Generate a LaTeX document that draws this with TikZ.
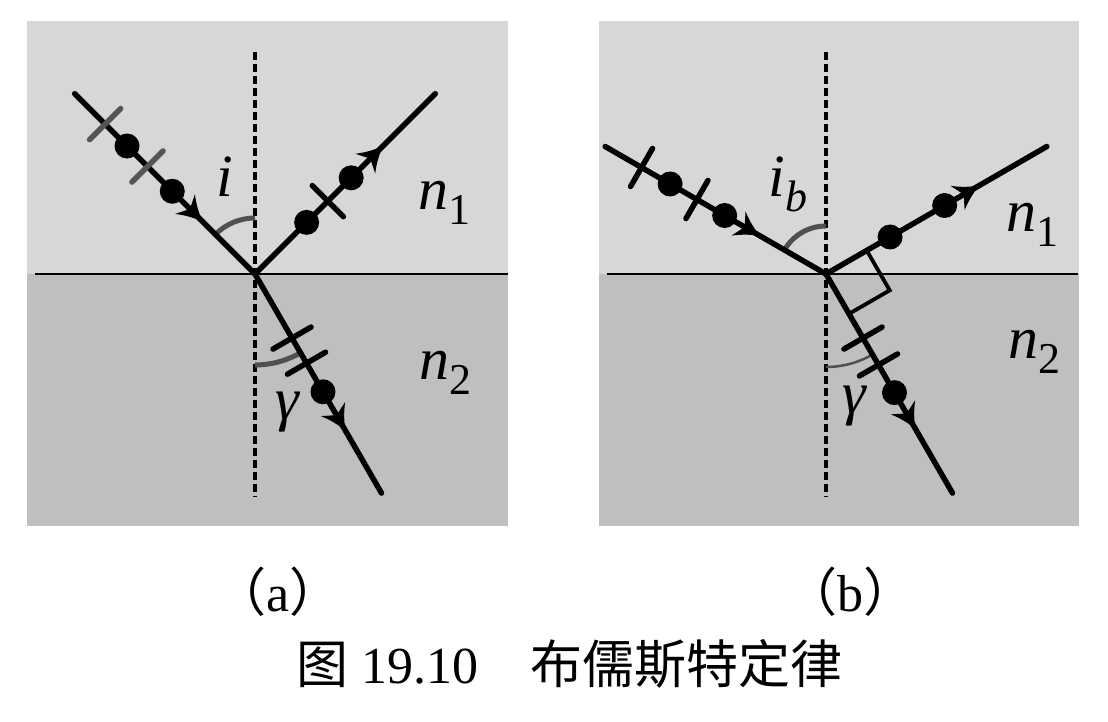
\documentclass[tikz,border=0pt]{standalone}
\usepackage{fontspec}
\setmainfont{Liberation Serif}
\newfontfamily\tms{Liberation Serif}
\newfontfamily\cjk{Noto Sans CJK SC}
\usetikzlibrary{calc}
\definecolor{upperg}{RGB}{215,215,215}
\definecolor{lowerg}{RGB}{191,191,191}
\definecolor{arcg}{RGB}{80,80,80}
\definecolor{tickg}{RGB}{85,85,85}
\tikzset{
  ray/.style={line width=5.5pt, line cap=round},
  normalline/.style={line width=3.8pt, dash pattern=on 8pt off 4pt},
  tickmark/.style={line width=5.5pt, line cap=round},
  anglearc/.style={line width=5pt, arcg},
  thinarc/.style={line width=2.5pt, arcg},
  interface/.style={line width=2pt},
  lbl/.style={inner sep=0pt, font=\tms\fontsize{60}{64}\selectfont\itshape},
  captext/.style={inner sep=0pt, font=\tms\fontsize{52}{56}\selectfont}
}
\newcommand{\dotat}[3]{\fill ($(#1)!#3pt!(#2)$) circle[radius=12.5];}
\newcommand{\tickat}[4][black]{\draw[tickmark,#1] ($($(#2)!#4pt!(#3)$)!22pt!90:(#3)$) -- ($($(#2)!#4pt!(#3)$)!22pt!-90:(#3)$);}
\newcommand{\headat}[2]{\fill[shift={(#1)}, rotate=#2]
  (0,0) .. controls (-8,-3) and (-16,-7) .. (-25,-14) .. controls (-21,-6) .. (-18,0)
  .. controls (-21,6) .. (-25,14) .. controls (-16,7) and (-8,3) .. (0,0) -- cycle;}
\newcommand{\subs}[1]{\raisebox{-15pt}{\fontsize{44}{46}\selectfont\itshape #1}}
\newcommand{\subn}[1]{\raisebox{-15pt}{\fontsize{44}{46}\selectfont\upshape #1}}
\begin{document}
\begin{tikzpicture}[x=1pt,y=1pt]
\useasboundingbox (0,0) rectangle (1108,722);
\fill[white] (0,0) rectangle (1108,722);

% ---------- panel (a)
\fill[upperg] (27,448) rectangle (508,701);
\fill[lowerg] (27,196) rectangle (508,448);
\coordinate (Va) at (255,448);
\coordinate (LaL) at (35,448);
\coordinate (LaR) at (508,448);
\draw[interface] (LaL) -- (LaR);
\coordinate (NaT) at (255,670);
\coordinate (NaB) at (255,225);
\draw[normalline] (NaT) -- (NaB);
\coordinate (Ia) at ($(Va)+(135:255)$);
\coordinate (Ra) at ($(Va)+(45:255)$);
\coordinate (Ta) at ($(Va)+(-60:253)$);
\draw[anglearc] ($(Va)+(90:56)$) arc[start angle=90,end angle=135,radius=56];
\draw[anglearc] ($(Va)+(270:91)$) arc[start angle=270,end angle=300,radius=91];
\draw[ray] (Ia) -- (Va);
\draw[ray] (Va) -- (Ra);
\draw[ray] (Va) -- (Ta);
\coordinate (hIa) at ($(Ia)!181pt!(Va)$);
\coordinate (hRa) at ($(Va)!181pt!(Ra)$);
\coordinate (hTa) at ($(Va)!181pt!(Ta)$);
\headat{hIa}{-45}
\headat{hRa}{45}
\headat{hTa}{-60}
\tickat[tickg]{Ia}{Va}{43}
\tickat[tickg]{Ia}{Va}{103}
\dotat{Ia}{Va}{74}
\dotat{Ia}{Va}{138}
\dotat{Va}{Ra}{73}
\tickat{Va}{Ra}{103}
\dotat{Va}{Ra}{136}
\tickat{Va}{Ta}{74}
\tickat{Va}{Ta}{103}
\dotat{Va}{Ta}{136}
\node[lbl] (ia) at (225,545) {i};
\node[lbl] (ga) at (287,310) {γ};
\node[lbl] (n1a) at (444,519) {n\subn{1}};
\node[lbl] (n2a) at (445,349) {n\subn{2}};

% ---------- panel (b)
\fill[upperg] (599,448) rectangle (1079,701);
\fill[lowerg] (599,196) rectangle (1079,448);
\coordinate (Vb) at (826,448);
\coordinate (LbL) at (607,448);
\coordinate (LbR) at (1078,448);
\draw[interface] (LbL) -- (LbR);
\coordinate (NbT) at (826,670);
\coordinate (NbB) at (826,225);
\draw[normalline] (NbT) -- (NbB);
\coordinate (Ib) at ($(Vb)+(150:255)$);
\coordinate (Rb) at ($(Vb)+(30:255)$);
\coordinate (Tb) at ($(Vb)+(-60:253)$);
\draw[anglearc] ($(Vb)+(90:48)$) arc[start angle=90,end angle=150,radius=48];
\draw[thinarc] ($(Vb)+(270:93)$) arc[start angle=270,end angle=300,radius=93];
\coordinate (Qr) at ($(Vb)+(30:47)$);
\coordinate (Qt) at ($(Vb)+(-60:46)$);
\coordinate (Qc) at ($(Qr)+(-60:46)$);
\draw[line width=3.8pt] (Qr) -- (Qc) -- (Qt);
\draw[ray] (Ib) -- (Vb);
\draw[ray] (Vb) -- (Rb);
\draw[ray] (Vb) -- (Tb);
\coordinate (hIb) at ($(Ib)!179pt!(Vb)$);
\coordinate (hRb) at ($(Vb)!177pt!(Rb)$);
\coordinate (hTb) at ($(Vb)!179pt!(Tb)$);
\headat{hIb}{-30}
\headat{hRb}{30}
\headat{hTb}{-60}
\tickat{Ib}{Vb}{42}
\tickat{Ib}{Vb}{106}
\dotat{Ib}{Vb}{75}
\dotat{Ib}{Vb}{138}
\dotat{Vb}{Rb}{74}
\dotat{Vb}{Rb}{137}
\tickat{Vb}{Tb}{74}
\tickat{Vb}{Tb}{105}
\dotat{Vb}{Tb}{137}
\node[lbl] (ib) at (788,538) {i\subs{b}};
\node[lbl] (gb) at (854,316) {γ};
\node[lbl] (n1b) at (1032,497) {n\subn{1}};
\node[lbl] (n2b) at (1034,370) {n\subn{2}};

% ---------- captions
\node[captext] (capa) at (278,130) {{\cjk （}a{\cjk ）}};
\node[captext] (capb) at (850,130) {{\cjk （}b{\cjk ）}};
\node[captext] (title) at (569,58) {{\cjk 图} 19.10{\cjk 　布儒斯特定律}};
\end{tikzpicture}
\end{document}
